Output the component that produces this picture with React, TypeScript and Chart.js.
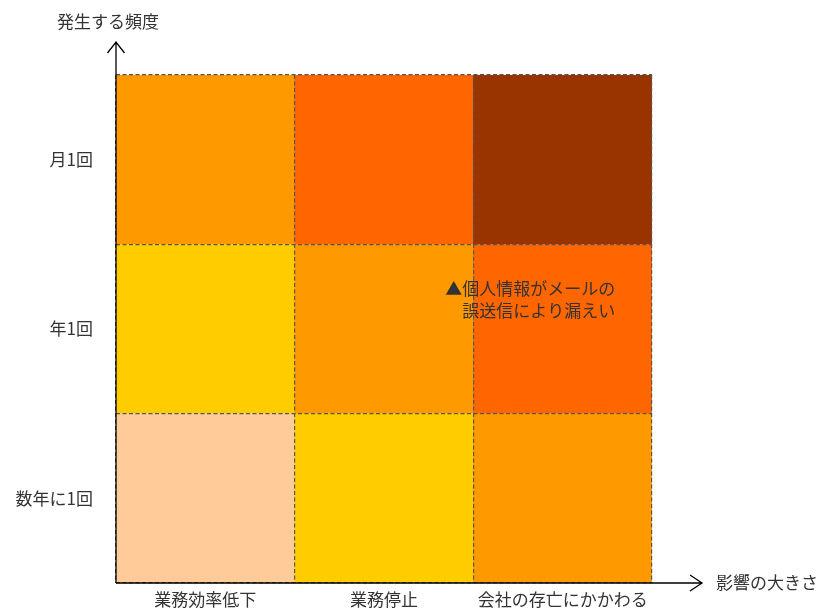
import React, { useEffect, useRef } from "react";
import { Chart, registerables } from "chart.js";

Chart.register(...registerables);

// Impact categories (x) and frequency categories (y, bottom -> top)
const impactLabels = ["業務効率低下", "業務停止", "会社の存亡にかかわる"];
const frequencyLabels = ["数年に1回", "年1回", "月1回"];

// Risk level per cell, rows bottom -> top, columns left -> right
const riskBottom = [1, 2, 3];
const riskMiddle = [2, 3, 4];
const riskTop = [3, 4, 5];
const riskRows = [riskBottom, riskMiddle, riskTop];

// Colour for each risk level (1..5)
const levelColors = ["#FFCC99", "#FFCC00", "#FF9900", "#FF6600", "#993300"];

// Annotation (position in cell units: x from left edge, y from bottom edge)
const annotationLines = ["▲個人情報がメールの", "誤送信により漏えい"];
const annotationRight = 2.795;
const annotationTop = 1.736;

const xTitle = "影響の大きさ";
const yTitle = "発生する頻度";

const FONT = "'Noto Sans CJK JP', 'Noto Sans', sans-serif";
const TEXT = "#333333";
const GRID = "#555555";

export default function App() {
  const ref = useRef<HTMLCanvasElement | null>(null);

  useEffect(() => {
    if (!ref.current) return;

    const overlay = {
      id: "overlay",
      afterDraw(chart: any) {
        const ctx = chart.ctx;
        const a = chart.chartArea;
        const cw = (a.right - a.left) / impactLabels.length;
        const rh = (a.bottom - a.top) / frequencyLabels.length;
        ctx.save();
        // annotation
        ctx.fillStyle = TEXT;
        ctx.font = `17px ${FONT}`;
        ctx.textAlign = "right";
        ctx.textBaseline = "middle";
        const ax = a.left + annotationRight * cw;
        const ay = a.bottom - annotationTop * rh;
        annotationLines.forEach((l, i) => ctx.fillText(l, ax, ay + i * 21.5));

        // axes with arrows
        ctx.strokeStyle = "#000";
        ctx.lineWidth = 1.3;
        ctx.beginPath();
        ctx.moveTo(a.left, a.bottom);
        ctx.lineTo(a.left, a.top - 33);
        ctx.moveTo(a.left - 8.5, a.top - 22);
        ctx.lineTo(a.left, a.top - 33);
        ctx.lineTo(a.left + 8.5, a.top - 22);
        ctx.moveTo(a.left, a.bottom);
        ctx.lineTo(a.right + 50, a.bottom);
        ctx.moveTo(a.right + 38, a.bottom - 8);
        ctx.lineTo(a.right + 50, a.bottom);
        ctx.lineTo(a.right + 38, a.bottom + 8);
        ctx.stroke();

        // axis titles
        ctx.textAlign = "left";
        ctx.fillText(yTitle, a.left - 59, a.top - 53);
        ctx.fillText(xTitle, a.right + 64, a.bottom);
        ctx.restore();
      },
    };

    const chart = new Chart(ref.current, {
      type: "bar",
      data: {
        labels: impactLabels,
        datasets: riskRows.map((row, i) => ({
          label: frequencyLabels[i],
          data: row.map(() => 1),
          backgroundColor: row.map((lv) => levelColors[lv - 1]),
          borderWidth: 0,
          barPercentage: 1,
          categoryPercentage: 1,
          yAxisID: "y",
        })),
      },
      options: {
        animation: false,
        responsive: true,
        maintainAspectRatio: false,
        layout: { padding: { left: 0, top: 75, right: 170, bottom: 0 } },
        plugins: { legend: { display: false }, tooltip: { enabled: false } },
        scales: {
          x: {
            stacked: true,
            z: 1,
            offset: true,
            grid: { color: GRID, lineWidth: 1.2, drawTicks: false, offset: true, z: 1 },
            border: { display: false, dash: [4, 2.5] },
            ticks: { color: TEXT, font: { family: FONT, size: 17 }, padding: 6, maxRotation: 0, autoSkip: false },
            afterFit: (s: any) => {
              s.height = 26;
              s.paddingLeft = 0;
              s.paddingRight = 0;
            },
          },
          y: {
            stacked: true,
            z: 1,
            min: 0,
            max: 3,
            position: "left",
            grid: { color: GRID, lineWidth: 1.2, drawTicks: false, z: 1 },
            border: { display: false, dash: [4, 2.5] },
            ticks: { display: false, stepSize: 1 },
            afterFit: (s: any) => {
              s.width = 0;
              s.paddingTop = 0;
              s.paddingBottom = 0;
            },
          },
          yLabels: {
            type: "category",
            position: "left",
            labels: [...frequencyLabels].reverse(),
            offset: true,
            grid: { display: false },
            border: { display: false },
            ticks: { color: TEXT, font: { family: FONT, size: 17 }, padding: 15 },
            afterFit: (s: any) => {
              s.width = 116;
              s.paddingTop = 0;
              s.paddingBottom = 0;
            },
          },
        },
      },
      plugins: [overlay],
    } as any);

    return () => chart.destroy();
  }, []);

  return (
    <div style={{ position: "absolute", left: 0, top: 0, width: 822, height: 609, background: "#fff" }}>
      <canvas ref={ref} />
    </div>
  );
}
